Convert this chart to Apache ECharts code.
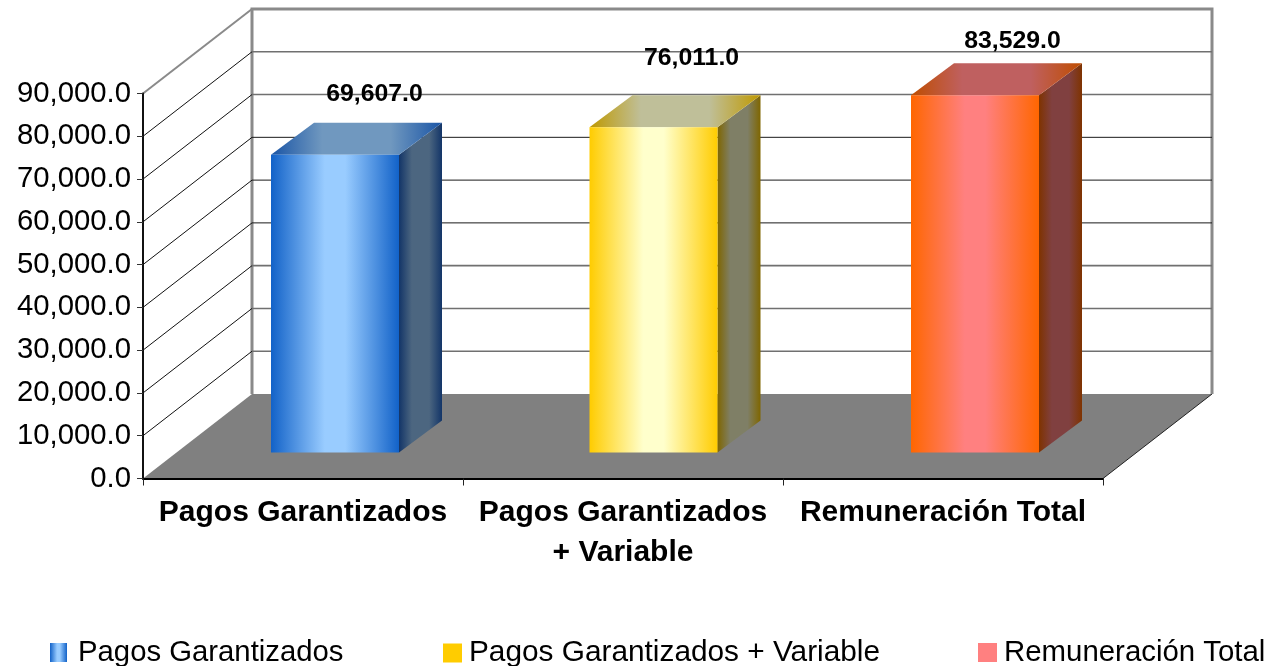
<!DOCTYPE html>
<html>
<head>
<meta charset="utf-8">
<title>Pagos Garantizados</title>
<style>
  html, body { margin: 0; padding: 0; background: #fff; }
  #chart { width: 1267px; height: 666px; }
</style>
<script src="https://cdn.jsdelivr.net/npm/echarts@6/dist/echarts.min.js"></script>
</head>
<body>
<div id="chart"></div>
<script>
const categories = ['Pagos Garantizados', 'Pagos Garantizados\n+ Variable', 'Remuneración Total'];
const seriesNames = ['Pagos Garantizados', 'Pagos Garantizados + Variable', 'Remuneración Total'];
const values = [69607, 76011, 83529];
const tickValues = [0, 10000, 20000, 30000, 40000, 50000, 60000, 70000, 80000, 90000];

const FONT = '"Liberation Sans", Arial, sans-serif';

// profundidad de la caja 3D, en pixeles
const DEPTH_X = 109;
const DEPTH_Y = -84.5;
// posicion de la barra dentro de la caja
const BAR_NEAR = [32, -26];
const BAR_BACK = [43, -32];
const BAR_WIDTH = 128;
// la barra central del original no cae exacta en el centro de su banda
const barNudge = [0, -1.5, 0];

// desplazamiento de cada etiqueta respecto al centro del borde trasero
const labelOffsets = [[39.5, -28.5], [38, -37], [37.5, -22]];

const hgrad = (edge, mid, flat) => new echarts.graphic.LinearGradient(0, 0, 1, 0, [
  { offset: 0, color: edge },
  { offset: 0.5 - flat, color: mid },
  { offset: 0.5 + flat, color: mid },
  { offset: 1, color: edge },
]);

const palette = [
  { front: ['#1262C8', '#99CCFF'], side: ['#133568', '#4C6680'], top: ['#1A55A6', '#7098BF'] },
  { front: ['#FFCC00', '#FFFFCC'], side: ['#7F6600', '#7F7F66'], top: ['#BF9900', '#BFBF99'] },
  { front: ['#FF6600', '#FF8080'], side: ['#7F3300', '#804040'], top: ['#BF4D00', '#BF6060'] },
];

const legendColors = [hgrad('#1262C8', '#99CCFF', 0.08), '#FFCC00', '#FF8080'];
const legendBoxes = [
  { left: 50, width: 17, pad: 6, size: 29.3 },
  { left: 443, width: 19, pad: 2, size: 29.8 },
  { left: 978, width: 19, pad: 2, size: 29.4 },
];

const fmt = v => v.toLocaleString('en-US', { minimumFractionDigits: 1, maximumFractionDigits: 1 });

function renderFloor(params) {
  const { x, y, width, height } = params.coordSys;
  const by = y + height;
  return {
    type: 'group',
    children: [
      {
        type: 'polygon',
        shape: { points: [[x, by], [x + width, by], [x + width + DEPTH_X, by + DEPTH_Y], [x + DEPTH_X, by + DEPTH_Y]] },
        style: { fill: '#808080' },
      },
      {
        type: 'line',
        shape: { x1: x + width, y1: by, x2: x + width + DEPTH_X, y2: by + DEPTH_Y },
        style: { stroke: '#222', lineWidth: 1 },
      },
      {
        type: 'polyline',
        shape: { points: [[x + DEPTH_X, by + DEPTH_Y], [x + DEPTH_X, y + DEPTH_Y], [x + width + DEPTH_X, y + DEPTH_Y], [x + width + DEPTH_X, by + DEPTH_Y]] },
        style: { fill: 'none', stroke: '#8a8a8a', lineWidth: 3 },
      },
      {
        type: 'line',
        shape: { x1: x, y1: y, x2: x + DEPTH_X, y2: y + DEPTH_Y },
        style: { stroke: '#8a8a8a', lineWidth: 2 },
      },
    ],
  };
}

function renderGrid(params, api) {
  const { x, width } = params.coordSys;
  const val = api.value(0);
  const yy = api.coord([0, val])[1];
  // en el original las lineas centrales salen mas finas y oscuras
  const dark = val >= 40000 && val <= 60000;
  return {
    type: 'group',
    children: [
      {
        type: 'line',
        shape: { x1: x, y1: yy, x2: x + DEPTH_X, y2: yy + DEPTH_Y },
        style: { stroke: '#111', lineWidth: 1 },
      },
      {
        type: 'line',
        shape: { x1: x + DEPTH_X, y1: yy + DEPTH_Y, x2: x + DEPTH_X + width, y2: yy + DEPTH_Y },
        style: { stroke: dark ? '#1a1a1a' : '#707070', lineWidth: dark ? 1 : 1.6 },
      },
    ],
  };
}

function renderBar(params, api) {
  const i = params.seriesIndex - 2;
  const colors = palette[i];
  const center = api.coord([api.value(0), 0]);
  const top = api.coord([api.value(0), api.value(1)]);
  const fx = BAR_BACK[0];
  const fy = BAR_BACK[1];
  const l = center[0] - BAR_WIDTH / 2 + BAR_NEAR[0] + barNudge[i];
  const r = l + BAR_WIDTH;
  const b = center[1] + BAR_NEAR[1];
  const t = top[1] + BAR_NEAR[1];
  return {
    type: 'group',
    children: [
      {
        type: 'polygon',
        shape: { points: [[r, b], [r + fx, b + fy], [r + fx, t + fy], [r, t]] },
        style: { fill: hgrad(colors.side[0], colors.side[1], 0.2) },
      },
      {
        type: 'polygon',
        shape: { points: [[l, t], [r, t], [r + fx, t + fy], [l + fx, t + fy]] },
        style: { fill: hgrad(colors.top[0], colors.top[1], 0.2) },
      },
      {
        type: 'rect',
        shape: { x: l, y: t, width: BAR_WIDTH, height: b - t },
        style: { fill: hgrad(colors.front[0], colors.front[1], 0.08) },
      },
      {
        type: 'text',
        x: l + BAR_WIDTH / 2 + labelOffsets[i][0],
        y: t + fy + labelOffsets[i][1],
        style: {
          text: fmt(api.value(1)),
          font: `bold 24.8px ${FONT}`,
          fill: '#000',
          align: 'center',
          verticalAlign: 'middle',
        },
      },
    ],
  };
}

const option = {
  animation: false,
  backgroundColor: '#fff',
  grid: { left: 143, top: 93.5, width: 960, height: 385 },
  legend: seriesNames.map((name, i) => ({
    left: legendBoxes[i].left,
    top: 638,
    padding: 0,
    itemWidth: legendBoxes[i].width,
    itemHeight: 19,
    selectedMode: false,
    textStyle: {
      fontFamily: FONT,
      fontSize: legendBoxes[i].size,
      color: '#000',
      padding: [0, 0, 9, legendBoxes[i].pad],
    },
    data: [{ name, icon: 'rect', itemStyle: { color: legendColors[i] } }],
  })),
  xAxis: {
    type: 'category',
    data: categories,
    z: 6,
    axisLine: { lineStyle: { color: '#000', width: 2 } },
    axisTick: { show: true, length: 7, lineStyle: { color: '#222' } },
    axisLabel: {
      interval: 0,
      margin: 14,
      fontFamily: FONT,
      fontWeight: 'bold',
      fontSize: 30,
      lineHeight: 40,
      color: '#000',
    },
  },
  yAxis: {
    type: 'value',
    min: 0,
    max: 90000,
    interval: 10000,
    z: 6,
    splitLine: { show: false },
    axisLine: { show: true, lineStyle: { color: '#111', width: 2 } },
    axisTick: { show: true, length: 6, lineStyle: { color: '#333' } },
    axisLabel: {
      margin: 12,
      padding: [3, 0, 0, 0],
      fontFamily: FONT,
      fontSize: 29.3,
      color: '#000',
      formatter: fmt,
    },
  },
  series: [
    {
      type: 'custom',
      name: 'floor',
      silent: true,
      z: 1,
      renderItem: renderFloor,
      data: [[0, 0]],
      encode: { x: 0, y: 1 },
    },
    {
      type: 'custom',
      name: 'grid',
      silent: true,
      z: 1,
      renderItem: renderGrid,
      data: tickValues.slice(1, -1).map(v => [v]),
      encode: { y: 0 },
    },
    ...seriesNames.map((name, i) => ({
      type: 'custom',
      name,
      z: 3,
      itemStyle: { color: palette[i].front[1] },
      renderItem: renderBar,
      data: [[i, values[i]]],
      encode: { x: 0, y: 1 },
    })),
  ],
};

const chart = echarts.init(document.getElementById('chart'), null, { renderer: 'canvas' });
chart.setOption(option);
</script>
</body>
</html>
